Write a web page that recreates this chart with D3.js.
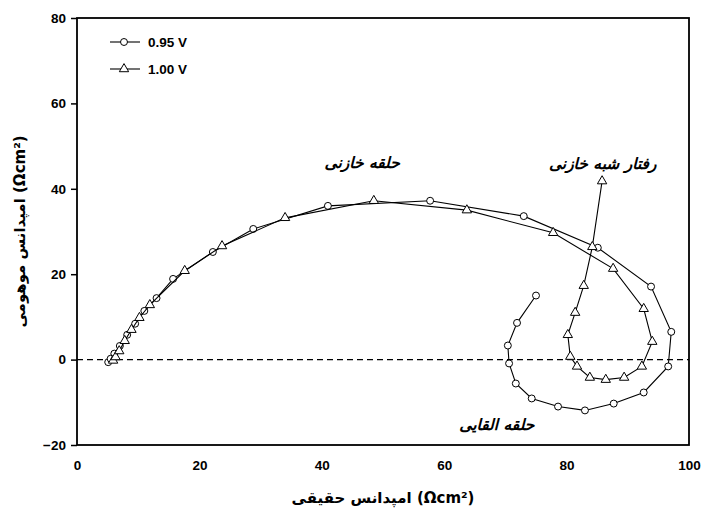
<!DOCTYPE html>
<html>
<head>
<meta charset="utf-8">
<script src="https://cdn.jsdelivr.net/npm/d3@7"></script>
<style>
  body { margin: 0; background: #fff; }
  svg text { font-family: "Liberation Sans", Arial, "DejaVu Sans", sans-serif; }
  .fa { font-family: "DejaVu Sans", sans-serif; font-weight: bold; font-style: italic; }
</style>
</head>
<body>
<script>
var seriesNames = ["0.95 V", "1.00 V"];

var reA = [5.1, 5.5, 6.1, 7.0, 8.2, 9.5, 11.0, 13.0, 15.7, 22.2, 28.8, 41.0, 57.7, 73.0, 85.1, 93.8, 97.1, 96.6,
           92.6, 87.7, 83.0, 78.6, 74.3, 71.7, 70.6, 70.4, 71.9, 75.0];
var imA = [-0.6, 0.2, 1.4, 3.2, 5.8, 8.4, 11.4, 14.4, 18.9, 25.2, 30.6, 36.0, 37.2, 33.6, 26.2, 17.1, 6.5, -1.6,
           -7.7, -10.3, -11.9, -11.0, -9.1, -5.6, -0.9, 3.3, 8.6, 15.0];

var reB = [5.9, 6.3, 6.9, 7.8, 8.9, 10.2, 11.9, 17.6, 23.7, 34.0, 48.5, 63.7, 77.8, 87.6, 92.6, 94.0, 92.3,
           89.4, 86.4, 83.8, 81.7, 80.6, 80.2, 81.4, 82.8, 84.2, 85.8];
var imB = [-0.2, 0.6, 2.0, 4.4, 7.0, 9.8, 12.8, 20.8, 26.6, 33.2, 37.2, 35.0, 29.7, 21.3, 11.9, 4.2, -1.6,
           -4.2, -4.7, -4.2, -1.6, 0.7, 5.8, 11.0, 17.3, 26.4, 41.8];

var xTicks = [0, 20, 40, 60, 80, 100];
var yTicks = [-20, 0, 20, 40, 60, 80];

var xTitle = "امپدانس حقیقی (Ωcm²)";
var yTitle = "امپدانس موهومی (Ωcm²)";
var notes = [
  {text: "حلقه خازنی", x: 46.6, y: 46.1},
  {text: "رفتار شبه خازنی", x: 85.9, y: 46.0},
  {text: "حلقه القایی", x: 68.6, y: -15.2}
];

var margin = {top: 18, right: 14, bottom: 66, left: 77},
    outerWidth = 703,
    outerHeight = 511,
    width = outerWidth - margin.left - margin.right,
    height = outerHeight - margin.top - margin.bottom;

var x = d3.scaleLinear().domain([0, 100]).range([0, width]);
var y = d3.scaleLinear().domain([-20, 80]).range([height, 0]);

var svg = d3.select("body").append("svg")
    .attr("width", outerWidth)
    .attr("height", outerHeight);

var g = svg.append("g")
    .attr("transform", "translate(" + margin.left + "," + margin.top + ")");

// zero line
g.append("line")
    .attr("x1", 0).attr("x2", width)
    .attr("y1", y(0)).attr("y2", y(0))
    .attr("stroke", "#000")
    .attr("stroke-width", 1.3)
    .attr("stroke-dasharray", "6,4");

// y axis, ticks outside
var yAxis = g.append("g")
    .call(d3.axisLeft(y).tickValues(yTicks).tickSize(6).tickPadding(5));
yAxis.select(".domain").remove();
yAxis.selectAll("line").attr("stroke-width", 1.5);
yAxis.selectAll("text")
    .style("font-size", "13.5px")
    .style("font-weight", "bold")
    .attr("fill", "#000");

// x labels without tick marks
var xAxis = g.append("g")
    .attr("transform", "translate(0," + height + ")")
    .call(d3.axisBottom(x).tickValues(xTicks).tickSize(0).tickPadding(15));
xAxis.select(".domain").remove();
xAxis.selectAll("text")
    .style("font-size", "13.5px")
    .style("font-weight", "bold")
    .attr("fill", "#000");

// frame
g.append("rect")
    .attr("width", width)
    .attr("height", height)
    .attr("fill", "none")
    .attr("stroke", "#000")
    .attr("stroke-width", 1.8);

function makePoints(re, im) {
  return re.map(function(d, i) { return [d, im[i]]; });
}

var line = d3.line()
    .x(function(d) { return x(d[0]); })
    .y(function(d) { return y(d[1]); });

var circle = d3.symbol().type(d3.symbolCircle).size(38);
var triangle = d3.symbol().type(d3.symbolTriangle).size(38);

var series = [
  {name: seriesNames[0], pts: makePoints(reA, imA), sym: circle},
  {name: seriesNames[1], pts: makePoints(reB, imB), sym: triangle}
];

series.forEach(function(s) {
  g.append("path")
      .attr("d", line(s.pts))
      .attr("fill", "none")
      .attr("stroke", "#000")
      .attr("stroke-width", 1.1);
  g.selectAll(null)
      .data(s.pts)
      .enter().append("path")
      .attr("d", s.sym)
      .attr("transform", function(d) { return "translate(" + x(d[0]) + "," + y(d[1]) + ")"; })
      .attr("fill", "#fff")
      .attr("stroke", "#000")
      .attr("stroke-width", 1);
});

// legend
var legend = g.selectAll(".legend")
    .data(series)
    .enter().append("g")
    .attr("class", "legend")
    .attr("transform", function(d, i) { return "translate(33," + (24 + i * 27) + ")"; });

legend.append("line")
    .attr("x1", 0).attr("x2", 30)
    .attr("stroke", "#000")
    .attr("stroke-width", 1.1);
legend.append("path")
    .attr("d", function(d) { return d.sym(); })
    .attr("transform", "translate(14,0)")
    .attr("fill", "#fff")
    .attr("stroke", "#000");
legend.append("text")
    .attr("x", 38)
    .attr("dy", "0.36em")
    .style("font-size", "13.5px")
    .style("font-weight", "bold")
    .text(function(d) { return d.name; });

// annotations
g.selectAll(".note")
    .data(notes)
    .enter().append("text")
    .attr("class", "fa")
    .attr("direction", "rtl")
    .attr("x", function(d) { return x(d.x); })
    .attr("y", function(d) { return y(d.y); })
    .attr("dy", "0.35em")
    .attr("text-anchor", "middle")
    .style("font-size", "15.5px")
    .text(function(d) { return d.text; });

// axis titles
svg.append("text")
    .attr("class", "fa")
    .style("font-style", "normal")
    .attr("x", margin.left + width / 2)
    .attr("y", 503)
    .attr("text-anchor", "middle")
    .style("font-size", "15px")
    .text(xTitle);

svg.append("text")
    .attr("class", "fa")
    .style("font-style", "normal")
    .attr("transform", "translate(20," + (margin.top + height / 2) + ") rotate(-90)")
    .attr("dy", "0.35em")
    .attr("text-anchor", "middle")
    .style("font-size", "15px")
    .text(yTitle);
</script>
</body>
</html>
